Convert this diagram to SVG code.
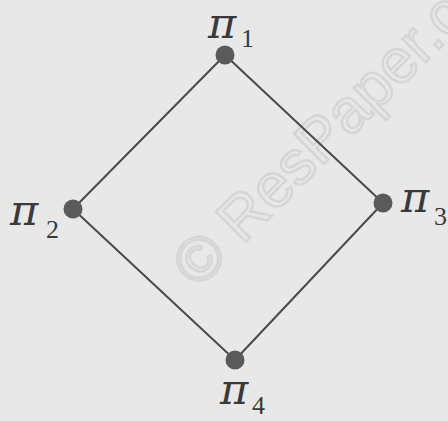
<svg xmlns="http://www.w3.org/2000/svg" width="448" height="421" viewBox="0 0 448 421">
<style>
.edge{stroke:#4a4a4a;stroke-width:2;fill:none;stroke-linecap:round}
.dot{fill:#5a5a5a}
.pi{font-family:"DejaVu Serif",serif;font-style:italic;font-size:43px;fill:#3a3a3a}
.sub{font-family:"Liberation Serif",serif;font-size:26px;fill:#3a3a3a}
.wm{font-family:"Liberation Sans",sans-serif;font-size:62px;fill:none;stroke:#d6d6d6;stroke-width:2.5}
</style>
<rect width="448" height="421" fill="#e8e8e8"/>
<text class="wm" transform="translate(198,290) rotate(-45)">© ResPaper.com</text>
<g id="connectors">
<line class="edge" x1="225" y1="55" x2="73" y2="209"/>
<line class="edge" x1="225" y1="55" x2="383" y2="203"/>
<line class="edge" x1="73" y1="209" x2="235" y2="360"/>
<line class="edge" x1="383" y1="203" x2="235" y2="360"/>
</g>
<g id="pi1"><circle class="dot" cx="225" cy="55" r="9.5"/><text class="pi" x="208" y="38" font-size="41">π</text><text class="sub" x="241" y="47">1</text></g>
<g id="pi2"><circle class="dot" cx="73" cy="209" r="9.5"/><text class="pi" x="10" y="225">π</text><text class="sub" x="46" y="238">2</text></g>
<g id="pi3"><circle class="dot" cx="383" cy="203" r="9.5"/><text class="pi" x="401" y="212">π</text><text class="sub" x="434" y="225">3</text></g>
<g id="pi4"><circle class="dot" cx="235" cy="360" r="9.5"/><text class="pi" x="220" y="404">π</text><text class="sub" x="252" y="414">4</text></g>
</svg>
